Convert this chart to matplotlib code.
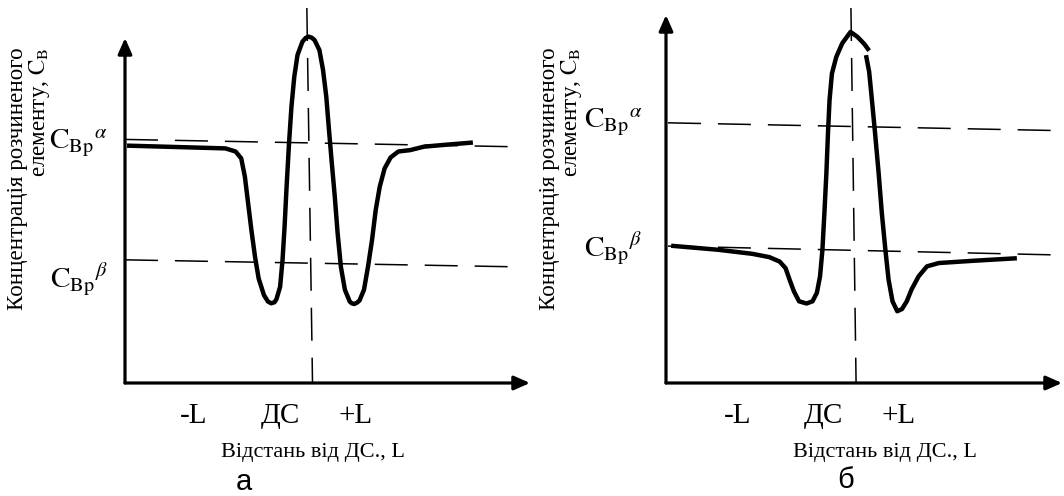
import numpy as np
import matplotlib
matplotlib.use("Agg")
import matplotlib.pyplot as plt

# =============================================================================
# Fonts
# =============================================================================
plt.rcParams['font.family'] = ['Liberation Serif', 'DejaVu Serif']
plt.rcParams['mathtext.fontset'] = 'stix'

# =============================================================================
# Data (schematic units: x 0..10 along the axis, y 0..10 concentration)
# =============================================================================
tick_labels = ['-L', 'ДС', '+L']
level_labels = [r'$\mathrm{C}_{\mathrm{Bp}}{}^{\alpha}$', r'$\mathrm{C}_{\mathrm{Bp}}{}^{\beta}$']
ylabel_lines = ['Концентрація розчиненого', r'елементу, $\mathrm{C}_{\mathrm{B}}$']
xlabel = 'Відстань від ДС., L'
panel_names = ['а', 'б']

# panel а
ticks_a = [1.70, 3.85, 5.70]
xa = [0.05, 1.27, 2.48, 2.73, 2.87, 2.96, 3.04, 3.12, 3.21, 3.30, 3.43, 3.53,
      3.61, 3.69, 3.74, 3.83, 3.89, 3.94, 3.99, 4.05, 4.11, 4.18, 4.26, 4.38,
      4.46, 4.53, 4.61, 4.68, 4.80, 4.89, 4.97, 5.03, 5.10, 5.18, 5.25, 5.33,
      5.43, 5.55, 5.60, 5.66, 5.73, 5.79, 5.90, 6.00, 6.10, 6.19, 6.29, 6.41,
      6.56, 6.75, 7.04, 7.38, 7.96, 8.59]
ya = [6.88, 6.84, 6.80, 6.71, 6.51, 5.98, 5.21, 4.44, 3.66, 3.03, 2.55, 2.36,
      2.31, 2.34, 2.43, 2.79, 3.57, 4.53, 5.69, 6.95, 8.01, 8.88, 9.51, 9.89,
      10.00, 10.04, 10.01, 9.94, 9.65, 9.07, 8.30, 7.43, 6.46, 5.40, 4.34, 3.37,
      2.70, 2.36, 2.31, 2.29, 2.33, 2.39, 2.70, 3.37, 4.15, 5.01, 5.69, 6.22,
      6.54, 6.71, 6.75, 6.85, 6.91, 6.97]
span_a = [0.0, 9.51]
alpha_a = [7.06, 6.85]
beta_a = [3.57, 3.37]
ds_xa = [4.49, 4.63]
ds_ya = [10.87, 0.0]

# panel б (the curve is drawn in two strokes, as in the original)
ticks_b = [1.80, 3.98, 5.87]
xb1 = [0.13, 1.32, 2.18, 2.61, 2.87, 3.02, 3.12, 3.23, 3.36, 3.55, 3.70, 3.81,
       3.89, 3.95, 4.00, 4.05, 4.09, 4.13, 4.19, 4.30, 4.45, 4.66, 4.83, 5.01, 5.13]
yb1 = [3.73, 3.62, 3.51, 3.42, 3.30, 3.12, 2.81, 2.49, 2.22, 2.16, 2.22, 2.45,
       2.90, 3.62, 4.62, 5.70, 6.78, 7.69, 8.41, 8.86, 9.23, 9.54, 9.41, 9.21, 9.03]
xb2 = [5.05, 5.13, 5.20, 5.28, 5.37, 5.45, 5.54, 5.62, 5.72, 5.84, 5.96, 6.08,
       6.20, 6.38, 6.59, 6.89, 7.74, 8.86]
yb2 = [8.91, 8.46, 7.69, 6.78, 5.70, 4.62, 3.62, 2.81, 2.22, 1.95, 2.01, 2.22,
       2.54, 2.90, 3.17, 3.26, 3.32, 3.39]
span_b = [0.05, 9.85]
alpha_b = [7.07, 6.86]
beta_b = [3.72, 3.48]
ds_xb = [4.67, 4.80]
ds_yb = [10.19, 0.0]

# =============================================================================
# Figure
# =============================================================================
W, H = 1064, 496
fig = plt.figure(figsize=(W / 100, H / 100), dpi=100)


def fpos(x, y):
    # pixel position (from top-left) -> figure fraction
    return x / W, 1 - y / H


DASH = (0, (21.6, 11.1))


def draw_panel(rect, curves, span, alpha, beta, ds_x, ds_y, ticks):
    ax = fig.add_axes(rect)
    ax.set_xlim(0, 10)
    ax.set_ylim(0, 10)
    for s in ax.spines.values():
        s.set_visible(False)
    ax.set_yticks([])
    ax.set_xticks(ticks, tick_labels, fontsize=21)
    ax.tick_params(axis='x', length=0, pad=28.5)
    for lbl in ax.get_xticklabels():
        lbl.set_verticalalignment('baseline')

    # axes with arrows
    arrow = dict(arrowstyle='-|>,head_length=0.95,head_width=0.42',
                 lw=2.3, color='black', shrinkA=0, shrinkB=0)
    ax.annotate('', xy=(1, 0), xytext=(0, 0), xycoords='axes fraction',
                arrowprops=arrow, annotation_clip=False)
    ax.annotate('', xy=(0, 1), xytext=(0, 0), xycoords='axes fraction',
                arrowprops=arrow, annotation_clip=False)

    # dashed levels and the ДС line
    ax.plot(span, alpha, color='black', lw=1.1, linestyle=DASH, clip_on=False)
    ax.plot(span, beta, color='black', lw=1.1, linestyle=DASH, clip_on=False)
    ax.plot(ds_x, ds_y, color='black', lw=1.1, linestyle=DASH, clip_on=False)

    for cx, cy in curves:
        ax.plot(cx, cy, color='black', lw=3.2, solid_joinstyle='round',
                solid_capstyle='butt', clip_on=False)
    return ax


ax_a = draw_panel([125 / W, 1 - 383 / H, 405 / W, 345 / H], [(xa, ya)],
                  span_a, alpha_a, beta_a, ds_xa, ds_ya, ticks_a)
ax_b = draw_panel([666 / W, 1 - 383 / H, 396 / W, 368 / H], [(xb1, yb1), (xb2, yb2)],
                  span_b, alpha_b, beta_b, ds_xb, ds_yb, ticks_b)

# level labels (right edge, baseline)
for (x, y), lab in zip([(108, 149), (108, 288)], level_labels):
    fig.text(*fpos(x, y), lab, fontsize=21, ha='right', va='baseline')
for (x, y), lab in zip([(643, 128), (642, 257)], level_labels):
    fig.text(*fpos(x, y), lab, fontsize=21, ha='right', va='baseline')

# rotated y labels, two lines, top-aligned
for x0 in (0, 532):
    fig.text(*fpos(x0 + 18, 47), ylabel_lines[0], fontsize=16.6, rotation=90,
             rotation_mode='anchor', ha='right', va='center')
    fig.text(*fpos(x0 + 40, 48), ylabel_lines[1], fontsize=16.6, rotation=90,
             rotation_mode='anchor', ha='right', va='center')

# x labels and panel letters
fig.text(*fpos(313, 457), xlabel, fontsize=16, ha='center', va='baseline')
fig.text(*fpos(885, 457), xlabel, fontsize=16, ha='center', va='baseline')
fig.text(*fpos(244, 490), panel_names[0], fontsize=21, ha='center', va='baseline',
         family=['Liberation Sans', 'DejaVu Sans'])
fig.text(*fpos(846, 488), panel_names[1], fontsize=21, ha='center', va='baseline',
         family=['Liberation Sans', 'DejaVu Sans'])

fig.savefig('out.png', dpi=100)
